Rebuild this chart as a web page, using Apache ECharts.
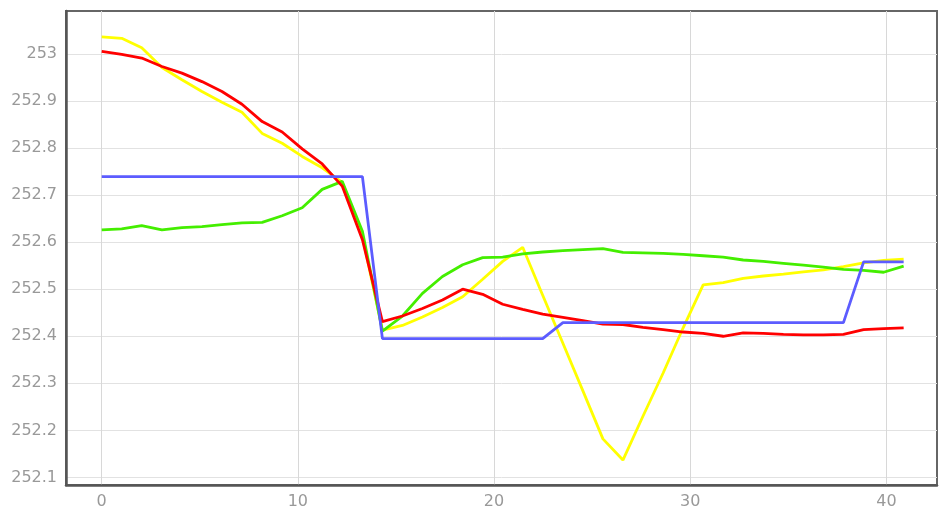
<!DOCTYPE html>
<html>
<head>
<meta charset="utf-8">
<script src="https://cdn.jsdelivr.net/npm/echarts@6/dist/echarts.min.js"></script>
<style>
  html, body { margin: 0; padding: 0; background: #fff; }
  #chart { width: 949px; height: 515px; }
</style>
</head>
<body>
<div id="chart"></div>
<script>
const xValues = [0, 1.02, 2.04, 3.07, 4.09, 5.11, 6.13, 7.15, 8.18, 9.2,
  10.22, 11.24, 12.26, 13.29, 14.31, 15.33, 16.35, 17.37, 18.4, 19.42,
  20.44, 21.46, 22.48, 23.51, 24.53, 25.55, 26.57, 27.59, 28.62, 29.64,
  30.66, 31.68, 32.7, 33.73, 34.75, 35.77, 36.79, 37.81, 38.84, 39.86, 40.88]

const yellowValues = [253.036, 253.033, 253.013, 252.971, 252.945, 252.920, 252.897, 252.876, 252.831, 252.810,
  252.782, 252.758, 252.727, 252.612, 252.413, 252.423, 252.441, 252.461, 252.484, 252.521,
  252.559, 252.589, 252.487, 252.385, 252.284, 252.182, 252.137, 252.230, 252.322, 252.418,
  252.509, 252.514, 252.523, 252.528, 252.532, 252.537, 252.541, 252.548, 252.556, 252.561, 252.564]

const greenValues = [252.626, 252.628, 252.635, 252.626, 252.631, 252.633, 252.637, 252.641, 252.642, 252.656,
  252.673, 252.712, 252.729, 252.623, 252.411, 252.443, 252.491, 252.527, 252.552, 252.567,
  252.568, 252.575, 252.579, 252.582, 252.584, 252.586, 252.578, 252.577, 252.576, 252.574,
  252.571, 252.568, 252.562, 252.559, 252.555, 252.551, 252.547, 252.542, 252.540, 252.536, 252.549]

const redValues = [253.005, 252.999, 252.991, 252.973, 252.959, 252.941, 252.920, 252.893, 252.856, 252.834,
  252.798, 252.766, 252.719, 252.605, 252.431, 252.443, 252.459, 252.477, 252.500, 252.489,
  252.468, 252.457, 252.447, 252.440, 252.433, 252.426, 252.425, 252.419, 252.414, 252.409,
  252.406, 252.400, 252.407, 252.406, 252.404, 252.403, 252.403, 252.404, 252.414, 252.416, 252.418]

const blueValues = [252.739, 252.739, 252.739, 252.739, 252.739, 252.739, 252.739, 252.739, 252.739, 252.739,
  252.739, 252.739, 252.739, 252.739, 252.395, 252.395, 252.395, 252.395, 252.395, 252.395,
  252.395, 252.395, 252.395, 252.429, 252.429, 252.429, 252.429, 252.429, 252.429, 252.429,
  252.429, 252.429, 252.429, 252.429, 252.429, 252.429, 252.429, 252.429, 252.558, 252.558, 252.558]

const xTicks = [0, 10, 20, 30, 40]
const yTicks = [252.1, 252.2, 252.3, 252.4, 252.5, 252.6, 252.7, 252.8, 252.9, 253]

const pairs = values => values.map((v, i) => [xValues[i], v])

const labelStyle = {
  color: '#999',
  fontFamily: 'DejaVu Sans',
  fontSize: 16,
}

const lineSeries = (name, color, values) => ({
  name,
  type: 'line',
  symbol: 'none',
  animation: false,
  lineStyle: { width: 2.8, color },
  itemStyle: { color },
  data: pairs(values),
})

const chart = echarts.init(document.getElementById('chart'))
chart.setOption({
  animation: false,
  grid: {
    left: 66,
    right: 12,
    top: 11,
    bottom: 30,
    show: true,
    borderColor: '#666',
    borderWidth: 2,
  },
  xAxis: {
    type: 'value',
    min: -1.82,
    max: 42.58,
    axisLine: { show: true, onZero: false, lineStyle: { color: '#555', width: 2.5 } },
    axisTick: { show: false, customValues: xTicks },
    axisLabel: { ...labelStyle, margin: 9, customValues: xTicks },
    splitLine: { show: true, lineStyle: { color: '#d8d8d8', width: 1 } },
  },
  yAxis: {
    type: 'value',
    min: 252.084,
    max: 253.091,
    axisLine: { show: true, onZero: false, lineStyle: { color: '#555', width: 2.5 } },
    axisTick: { show: false, customValues: yTicks },
    axisLabel: { ...labelStyle, margin: 9, customValues: yTicks },
    splitLine: { show: true, lineStyle: { color: '#e2e2e2', width: 1 } },
  },
  series: [
    lineSeries('yellow', '#ffff00', yellowValues),
    lineSeries('green', '#44ee00', greenValues),
    lineSeries('red', '#ff0000', redValues),
    lineSeries('blue', '#5c5cff', blueValues),
  ],
})
</script>
</body>
</html>
